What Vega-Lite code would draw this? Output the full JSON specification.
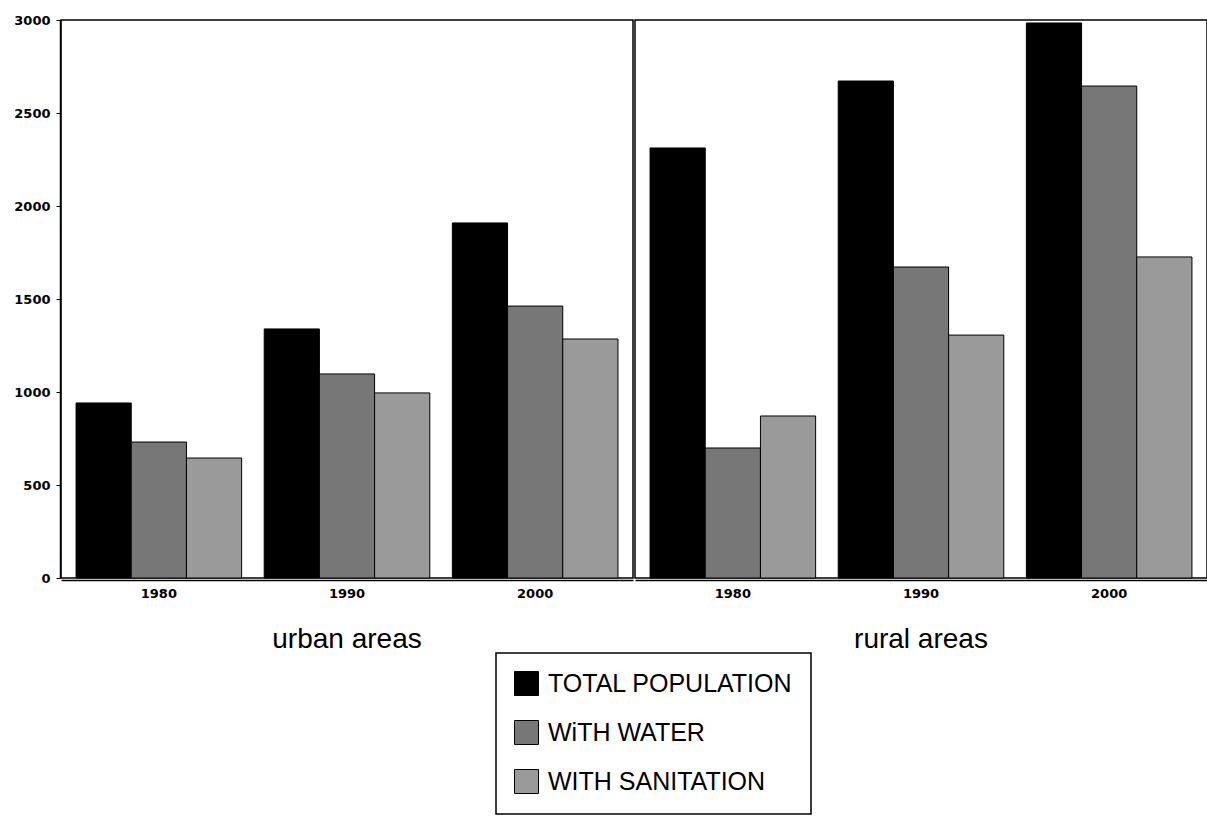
{
  "$schema": "https://vega.github.io/schema/vega-lite/v6.json",
  "padding": {"left": 13, "top": 14, "right": 0, "bottom": 0},
  "background": "white",
  "data": {
    "values": [
      {"area": "urban areas", "year": "1980", "series": "TOTAL POPULATION", "value": 941},
      {"area": "urban areas", "year": "1980", "series": "WiTH WATER", "value": 731},
      {"area": "urban areas", "year": "1980", "series": "WITH SANITATION", "value": 645},
      {"area": "urban areas", "year": "1990", "series": "TOTAL POPULATION", "value": 1339},
      {"area": "urban areas", "year": "1990", "series": "WiTH WATER", "value": 1097},
      {"area": "urban areas", "year": "1990", "series": "WITH SANITATION", "value": 995},
      {"area": "urban areas", "year": "2000", "series": "TOTAL POPULATION", "value": 1909},
      {"area": "urban areas", "year": "2000", "series": "WiTH WATER", "value": 1462},
      {"area": "urban areas", "year": "2000", "series": "WITH SANITATION", "value": 1285},
      {"area": "rural areas", "year": "1980", "series": "TOTAL POPULATION", "value": 2312},
      {"area": "rural areas", "year": "1980", "series": "WiTH WATER", "value": 699},
      {"area": "rural areas", "year": "1980", "series": "WITH SANITATION", "value": 871},
      {"area": "rural areas", "year": "1990", "series": "TOTAL POPULATION", "value": 2672},
      {"area": "rural areas", "year": "1990", "series": "WiTH WATER", "value": 1672},
      {"area": "rural areas", "year": "1990", "series": "WITH SANITATION", "value": 1306},
      {"area": "rural areas", "year": "2000", "series": "TOTAL POPULATION", "value": 2984},
      {"area": "rural areas", "year": "2000", "series": "WiTH WATER", "value": 2645},
      {"area": "rural areas", "year": "2000", "series": "WITH SANITATION", "value": 1726}
    ]
  },
  "facet": {
    "column": {
      "field": "area",
      "type": "nominal",
      "sort": ["urban areas", "rural areas"],
      "header": {
        "title": null,
        "labelOrient": "bottom",
        "labelFont": "Liberation Sans",
        "labelFontSize": 28,
        "labelColor": "black",
        "labelPadding": 26
      }
    }
  },
  "spacing": 0,
  "spec": {
    "width": 572,
    "height": 558,
    "mark": {"type": "bar", "stroke": "black", "strokeWidth": 1},
    "encoding": {
      "x": {
        "field": "year",
        "type": "ordinal",
        "scale": {"paddingInner": 0.12, "paddingOuter": 0.08},
        "axis": {
          "title": null,
          "labelAngle": 0,
          "ticks": false,
          "labelPadding": 7,
          "labelFont": "DejaVu Sans",
          "labelFontWeight": "bold",
          "labelFontSize": 13,
          "labelColor": "black",
          "domainColor": "black",
          "domainWidth": 1.5
        }
      },
      "xOffset": {
        "field": "series",
        "type": "nominal",
        "sort": ["TOTAL POPULATION", "WiTH WATER", "WITH SANITATION"],
        "scale": {"paddingInner": 0, "paddingOuter": 0}
      },
      "y": {
        "field": "value",
        "type": "quantitative",
        "scale": {"domain": [0, 3000], "nice": false},
        "axis": {
          "title": null,
          "values": [0, 500, 1000, 1500, 2000, 2500, 3000],
          "format": "d",
          "grid": false,
          "tickSize": 4,
          "tickColor": "black",
          "labelPadding": 6,
          "labelFont": "DejaVu Sans",
          "labelFontWeight": "bold",
          "labelFontSize": 13,
          "labelColor": "black",
          "domainColor": "black",
          "domainWidth": 1.5
        }
      },
      "fill": {
        "field": "series",
        "type": "nominal",
        "scale": {
          "domain": ["TOTAL POPULATION", "WiTH WATER", "WITH SANITATION"],
          "range": ["#000000", "#777777", "#9a9a9a"]
        },
        "legend": {
          "title": null,
          "orient": "none",
          "legendX": 435,
          "legendY": 633,
          "direction": "vertical",
          "symbolType": "square",
          "symbolSize": 576,
          "symbolStrokeColor": "black",
          "symbolStrokeWidth": 1,
          "symbolOpacity": 1,
          "labelFont": "Liberation Sans",
          "labelFontSize": 25,
          "labelColor": "black",
          "labelOffset": 9,
          "labelLimit": 400,
          "rowPadding": 20,
          "padding": 18,
          "strokeColor": "black",
          "fillColor": "white",
          "encode": {"legend": {"update": {"strokeWidth": {"value": 1.5}}}}
        }
      }
    }
  },
  "config": {
    "font": "Liberation Sans",
    "view": {"stroke": "black", "strokeWidth": 1.5}
  }
}
